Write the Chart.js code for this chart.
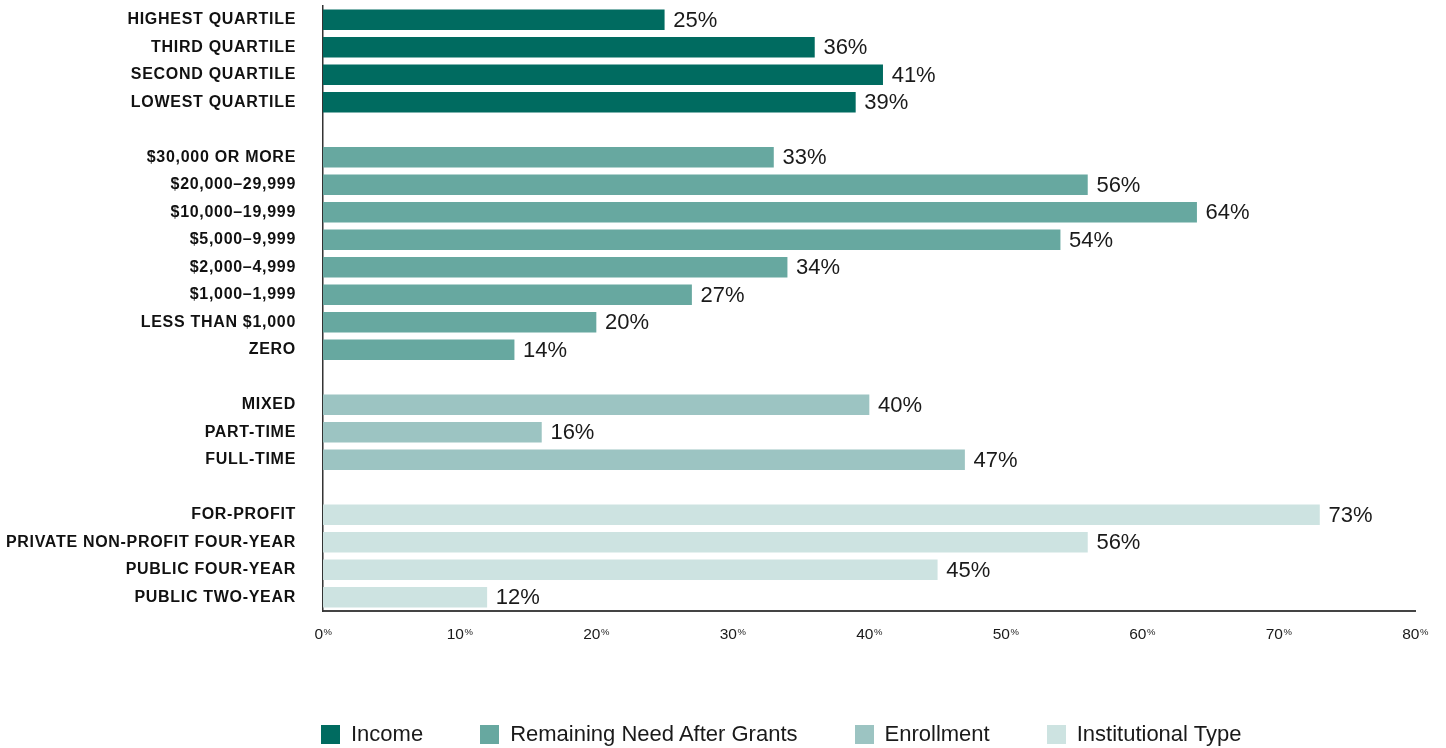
<!DOCTYPE html>
<html>
<head>
<meta charset="utf-8">
<script src="https://cdn.jsdelivr.net/npm/chart.js@4/dist/chart.umd.min.js"></script>
<style>
  body { margin: 0; background: #fff; }
  #wrap { position: relative; width: 1446px; height: 748px; }
  #legend { position: absolute; left: 321px; top: 721px; display: flex; gap: 57px;
            font: 22px "Liberation Sans", Arial, sans-serif; color: #1a1a1a; }
  #legend .item { display: flex; align-items: center; }
  #legend .box { width: 19px; height: 19px; margin-right: 11px; }
</style>
</head>
<body>
<div id="wrap">
  <canvas id="chart" width="1446" height="748"></canvas>
  <div id="legend"></div>
</div>
<script>
// ---- data ----
const groupNames = ['Income', 'Remaining Need After Grants', 'Enrollment', 'Institutional Type'];
const groupColors = ['#006b60', '#67a8a0', '#9cc4c2', '#cde3e1'];

const incomeLabels = ['HIGHEST QUARTILE', 'THIRD QUARTILE', 'SECOND QUARTILE', 'LOWEST QUARTILE'];
const incomeValues = [25, 36, 41, 39];

const needLabels = ['$30,000 OR MORE', '$20,000–29,999', '$10,000–19,999', '$5,000–9,999',
                    '$2,000–4,999', '$1,000–1,999', 'LESS THAN $1,000', 'ZERO'];
const needValues = [33, 56, 64, 54, 34, 27, 20, 14];

const enrollLabels = ['MIXED', 'PART-TIME', 'FULL-TIME'];
const enrollValues = [40, 16, 47];

const instLabels = ['FOR-PROFIT', 'PRIVATE NON-PROFIT FOUR-YEAR', 'PUBLIC FOUR-YEAR', 'PUBLIC TWO-YEAR'];
const instValues = [73, 56, 45, 12];

const xTicks = [0, 10, 20, 30, 40, 50, 60, 70, 80];

// ---- build category list with blank rows between groups ----
const groups = [
  [incomeLabels, incomeValues],
  [needLabels, needValues],
  [enrollLabels, enrollValues],
  [instLabels, instValues]
];
const labels = [];
const slots = [];
groups.forEach((g, gi) => {
  if (gi > 0) { labels.push(''); slots.push(null); }
  g[0].forEach((l, i) => { labels.push(l); slots.push([gi, i]); });
});
const datasets = groups.map((g, gi) => ({
  label: groupNames[gi],
  data: slots.map(s => (s && s[0] === gi) ? g[1][s[1]] : null),
  backgroundColor: groupColors[gi],
  barThickness: 20,
  grouped: false
}));

// ---- plugins ----
const spacing = {
  id: 'spacing',
  beforeLayout(chart) { chart.ctx.letterSpacing = '0.7px'; },
  beforeDraw(chart) { chart.ctx.letterSpacing = '0.7px'; }
};

const valueLabels = {
  id: 'valueLabels',
  afterDatasetsDraw(chart) {
    const ctx = chart.ctx;
    ctx.save();
    ctx.letterSpacing = '0px';
    ctx.font = '22px "Liberation Sans", Arial, sans-serif';
    ctx.fillStyle = '#1a1a1a';
    ctx.textBaseline = 'middle';
    ctx.textAlign = 'left';
    chart.data.datasets.forEach((ds, di) => {
      chart.getDatasetMeta(di).data.forEach((el, i) => {
        const v = ds.data[i];
        if (v === null) return;
        ctx.fillText(v + '%', el.x + 9, el.y + 1);
      });
    });
    ctx.restore();
  }
};

const xTickLabels = {
  id: 'xTickLabels',
  afterDraw(chart) {
    const ctx = chart.ctx;
    const sc = chart.scales.x;
    const base = chart.chartArea.bottom + 28;
    const numFont = '15.5px "Liberation Sans", Arial, sans-serif';
    const pctFont = '9.5px "Liberation Sans", Arial, sans-serif';
    ctx.save();
    ctx.letterSpacing = '0px';
    ctx.fillStyle = '#1a1a1a';
    ctx.textBaseline = 'alphabetic';
    ctx.textAlign = 'left';
    xTicks.forEach(v => {
      const px = sc.getPixelForValue(v);
      const num = String(v);
      ctx.font = numFont;
      const wn = ctx.measureText(num).width;
      ctx.font = pctFont;
      const wp = ctx.measureText('%').width;
      const x0 = px - (wn + wp) / 2;
      ctx.font = numFont;
      ctx.fillText(num, x0, base);
      ctx.font = pctFont;
      ctx.fillText('%', x0 + wn + 0.5, base - 4.5);
    });
    ctx.restore();
  }
};

// ---- chart ----
const canvas = document.getElementById('chart');
new Chart(canvas, {
  type: 'bar',
  data: { labels, datasets },
  plugins: [spacing, valueLabels, xTickLabels],
  options: {
    indexAxis: 'y',
    responsive: false,
    maintainAspectRatio: false,
    animation: false,
    layout: { padding: { left: 0, right: 31, top: 6, bottom: 105 } },
    plugins: { legend: { display: false }, tooltip: { enabled: false } },
    scales: {
      x: {
        min: 0, max: 80,
        afterBuildTicks(scale) { scale.ticks = xTicks.map(v => ({ value: v })); },
        afterFit(scale) { scale.height = 32; },
        grid: { display: false, drawTicks: false },
        border: { display: true, color: '#444', width: 2 },
        ticks: { color: 'rgba(0,0,0,0)', font: { size: 15, family: '"Liberation Sans", Arial' }, padding: 14,
                 callback: v => v + '%' }
      },
      y: {
        afterFit(scale) { scale.width = 323; scale.paddingTop = 0; scale.paddingBottom = 0; },
        grid: { display: false, drawTicks: false },
        border: { display: true, color: '#333', width: 1.5 },
        ticks: { color: '#111', padding: 27, autoSkip: false,
                 font: { size: 16, weight: 'bold', family: '"Liberation Sans", Arial' } }
      }
    }
  }
});

// ---- legend (html) ----
const legend = document.getElementById('legend');
groupNames.forEach((n, i) => {
  const item = document.createElement('div');
  item.className = 'item';
  item.innerHTML = '<span class="box" style="background:' + groupColors[i] + '"></span><span>' + n + '</span>';
  legend.appendChild(item);
});
</script>
</body>
</html>
